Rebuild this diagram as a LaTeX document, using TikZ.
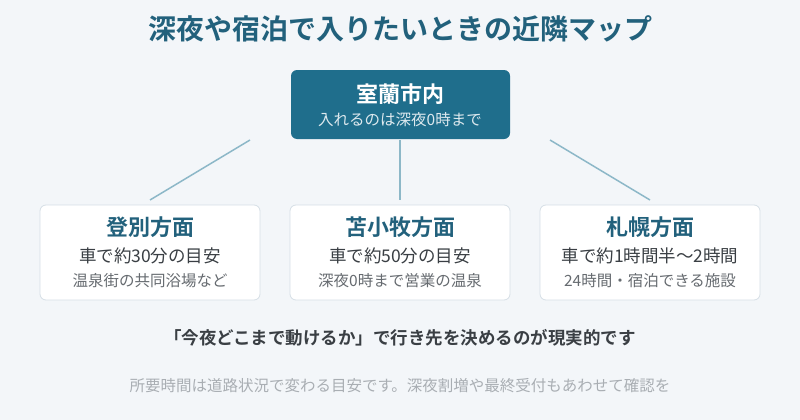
\documentclass[tikz,border=0pt]{standalone}
\usepackage{fontspec}
\setmainfont{Noto Sans CJK JP}
\newfontfamily\jpb{Noto Sans CJK JP Bold}
\definecolor{bg}{HTML}{F3F6F9}
\definecolor{teal}{HTML}{1F6E8C}
\definecolor{ttl}{HTML}{22617C}
\definecolor{lnk}{HTML}{8DB8C8}
\definecolor{brd}{HTML}{D6DFE6}
\definecolor{txt}{HTML}{3A3F44}
\definecolor{sub}{HTML}{666B70}
\definecolor{foot}{HTML}{A9AEB3}
\begin{document}
\begin{tikzpicture}[x=1pt,y=-1pt,
  box/.style={draw=brd,fill=white,rounded corners=6pt,line width=0.8pt},
  ttlf/.style={font=\jpb\fontsize{22}{25}\selectfont,text=ttl},
  l2/.style={font=\fontsize{17.5}{20}\selectfont,text=txt},
  l3/.style={font=\fontsize{15.5}{18}\selectfont,text=sub},
  link/.style={draw=lnk,line width=1.5pt}]
\fill[bg] (0,0) rectangle (800,420);
\useasboundingbox (0,0) rectangle (800,420);
\node[font=\jpb\fontsize{28}{31}\selectfont,text=ttl] (title) at (400,29) {深夜や宿泊で入りたいときの近隣マップ};
\node[fill=teal,rounded corners=6pt,minimum width=219pt,minimum height=69pt] (top) at (400.5,104.5) {};
\node[font=\jpb\fontsize{22}{25}\selectfont,text=white] (topt) at (400,94) {室蘭市内};
\node[font=\fontsize{15.5}{18}\selectfont,text=white!85!teal] (tops) at (400,120) {入れるのは深夜0時まで};
\coordinate (a1) at (250,140); \coordinate (a2) at (150,200);
\coordinate (b1) at (400,140); \coordinate (b2) at (400,200);
\coordinate (c1) at (550,140); \coordinate (c2) at (650,200);
\draw[link] (a1)--(a2); \draw[link] (b1)--(b2); \draw[link] (c1)--(c2);
\foreach \n/\x/\t/\s/\u in {L/150/登別方面/車で約30分の目安/温泉街の共同浴場など,
  M/400/苫小牧方面/車で約50分の目安/深夜0時まで営業の温泉,
  R/650/札幌方面/車で約1時間半〜2時間/24時間・宿泊できる施設}{
  \node[box,minimum width=220pt,minimum height=95pt] (\n) at (\x,252.5) {};
  \node[ttlf] (\n t) at (\x,227) {\t};
  \node[l2] (\n s) at (\x,256) {\s};
  \node[l3] (\n u) at (\x,281) {\u};
}
\node[font=\jpb\fontsize{17.5}{20}\selectfont,text=txt] (note) at (400,338) {「今夜どこまで動けるか」で行き先を決めるのが現実的です};
\node[font=\fontsize{15.5}{18}\selectfont,text=foot] (foot) at (400,386) {所要時間は道路状況で変わる目安です。深夜割増や最終受付もあわせて確認を};
\end{tikzpicture}
\end{document}
